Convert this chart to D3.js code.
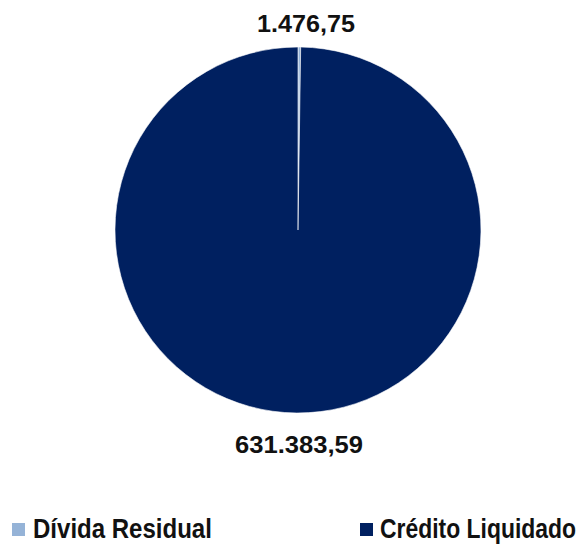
<!DOCTYPE html>
<html>
<head>
<meta charset="utf-8">
<script src="https://cdn.jsdelivr.net/npm/d3@7"></script>
<style>
  body { margin: 0; background: #fff; }
  svg { display: block; }
</style>
</head>
<body>
<svg class="chart"></svg>
<script>
const svgWidth = 582;
const svgHeight = 547;

const categories = ["Dívida Residual", "Crédito Liquidado"];
const values = [1476.75, 631383.59];
const valueLabels = ["1.476,75", "631.383,59"];
const colors = ["#95b3d7", "#002060"];

const svg = d3.select(".chart")
    .attr("width", svgWidth)
    .attr("height", svgHeight);

const cx = 298, cy = 230, radius = 183;

const pie = d3.pie().sort(null).value(d => d);
const arcs = pie(values);
const arc = d3.arc().innerRadius(0).outerRadius(radius);

const g = svg.append("g").attr("transform", `translate(${cx},${cy})`);

g.selectAll("path")
    .data(arcs)
    .enter()
    .append("path")
    .attr("d", arc)
    .attr("fill", (d, i) => colors[i])
    .attr("stroke", "#ffffff")
    .attr("stroke-width", 0.6);

// labels: small slice above the pie, big slice below
const labelPos = [[306, 32], [299, 453]];
const labelLen = [98, 128];
svg.selectAll("text.value")
    .data(valueLabels)
    .enter()
    .append("text")
    .attr("class", "value")
    .attr("x", (d, i) => labelPos[i][0] - labelLen[i] / 2)
    .attr("y", (d, i) => labelPos[i][1])
    .attr("textLength", (d, i) => labelLen[i])
    .attr("lengthAdjust", "spacingAndGlyphs")
    .attr("font-family", "'Liberation Sans', Arial, sans-serif")
    .attr("font-weight", "bold")
    .attr("font-size", 23)
    .attr("fill", "#111")
    .text(d => d);

// legend (text is squeezed like in the original, so scale it to fit)
const legendX = [12, 360];
const legendLen = [179, 196];
const legend = svg.selectAll("g.legend")
    .data(categories)
    .enter()
    .append("g")
    .attr("class", "legend")
    .attr("transform", (d, i) => `translate(${legendX[i]},523)`);

legend.append("rect")
    .attr("width", 13)
    .attr("height", 13)
    .attr("fill", (d, i) => colors[i]);

legend.append("text")
    .attr("font-family", "'Liberation Sans', Arial, sans-serif")
    .attr("font-weight", "bold")
    .attr("font-size", 20)
    .attr("fill", "#111")
    .text(d => d)
    .attr("transform", function (d, i) {
        const w = this.getComputedTextLength();
        const x0 = i === 0 ? 21 : 20;
        return `translate(${x0},15) scale(${legendLen[i] / w},1.4)`;
    });
</script>
</body>
</html>
